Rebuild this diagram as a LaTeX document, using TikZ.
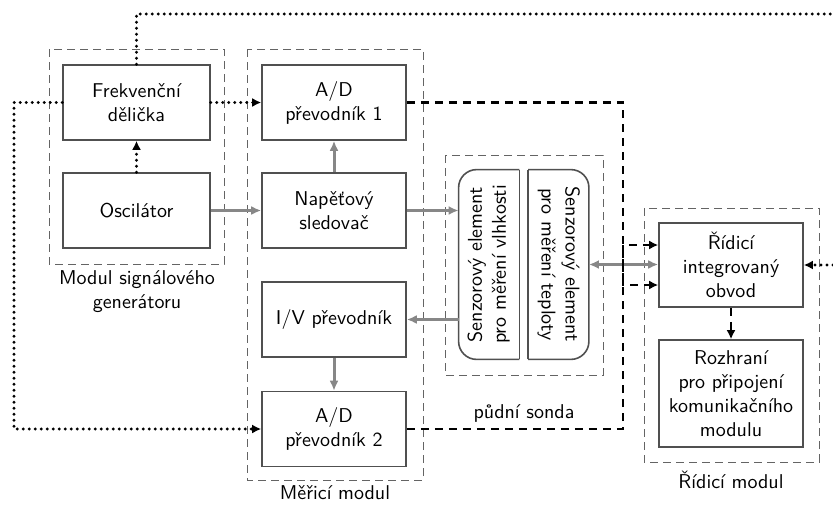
\documentclass[tikz,border=0pt]{standalone}
\usepackage{fontspec}
\usepackage{graphicx}
\usetikzlibrary{arrows.meta}

\definecolor{boxgray}{RGB}{80,80,80}
\definecolor{arrgray}{RGB}{135,135,135}
\definecolor{modgray}{RGB}{100,100,100}

\tikzset{
  blok/.style={draw=boxgray, line width=0.8pt, minimum width=72pt, minimum height=37.5pt, align=center, inner sep=1pt},
  senzor/.style={minimum width=30pt, minimum height=94.5pt, inner sep=0pt},
  obrys/.style={draw=boxgray, line width=0.8pt},
  modul/.style={draw=modgray, line width=0.5pt, dash pattern=on 4pt off 2.5pt},
  signal/.style={draw=arrgray, line width=1.5pt, -{Latex[length=5pt,width=4.5pt]}},
  rizeni/.style={line width=1.4pt, dash pattern=on 4pt off 3pt, -{Latex[length=4.5pt,width=4.5pt]}},
  hodiny/.style={line width=1.6pt, line cap=round, dash pattern=on 0pt off 3pt, -{Latex[length=4.5pt,width=4.5pt]}},
}

\begin{document}
\begin{tikzpicture}[x=0.5pt,y=0.5pt,yscale=-1,xscale=1, every node/.style={font=\sffamily}]
        \useasboundingbox (0,0) rectangle (833,504);

        %Shape: Rectangle [modul signaloveho generatoru]
        \draw [modul] (49,49) rectangle (224,264);
        %Shape: Rectangle [merici modul]
        \draw [modul] (247,49) rectangle (423,480);
        %Shape: Rectangle [pudni sonda]
        \draw [modul] (445,155) rectangle (603,375);
        %Shape: Rectangle [ridici modul]
        \draw [modul] (644,208) rectangle (819,462);

        % Blocks
        \node (del) [blok, minimum width=73.5pt] at (136.5,102.5) {Frekvenční\\dělička};
        \node (osc) [blok, minimum width=73.5pt] at (136.5,210.5) {Oscilátor};
        \node (ad1) [blok] at (334,102.5) {A/D\\převodník 1};
        \node (nap) [blok] at (334,210.5) {Napěťový\\sledovač};
        \node (iv) [blok] at (334,319.5) {I/V převodník};
        \node (ad2) [blok] at (334,429) {A/D\\převodník 2};
        \node (ridici) [blok, minimum height=42pt] at (731,265) {Řídicí\\integrovaný\\obvod};
        \node (rozh) [blok, minimum height=53.5pt] at (731,393.5) {Rozhraní\\pro připojení\\komunikačního\\modulu};

        % Sensor elements
        \node (vlh) [senzor] at (489,264.5) {\rotatebox{90}{\begin{tabular}{@{}c@{}}Senzorový element\\pro měření vlhkosti\end{tabular}}};
        \node (tep) [senzor] at (558.5,264.5) {\rotatebox{-90}{\begin{tabular}{@{}c@{}}Senzorový element\\pro měření teploty\end{tabular}}};
        \draw [obrys, rounded corners=9pt] (vlh.north east) -- (vlh.north west) -- (vlh.south west) -- (vlh.south east);
        \draw [obrys] (vlh.south east) -- (vlh.north east);
        \draw [obrys, rounded corners=9pt] (tep.north west) -- (tep.north east) -- (tep.south east) -- (tep.south west);
        \draw [obrys] (tep.south west) -- (tep.north west);

        % Text Node
        \node (lgen) [align=center] at (137,292) {Modul signálového\\generátoru};
        % Text Node
        \node (lmer) at (335,493) {Měřicí modul};
        % Text Node
        \node (lrid) at (731,480) {Řídicí modul};
        % Text Node
        \node (lsonda) at (524,413) {půdní sonda};

        % bend points
        \coordinate (lft) at (14,0);
        \coordinate (bus) at (623,0);
        \coordinate (top) at (833,14);
        \coordinate (rgt) at (833,265);
        \coordinate (ina) at ([yshift=10pt]ridici.west);
        \coordinate (inb) at ([yshift=-10pt]ridici.west);

        % clock lines
        \draw [hodiny] (osc) -- (del);
        \draw [hodiny] (del) -- (ad1);
        \draw [hodiny] (del.west) -| (lft |- ad2.west) -- (ad2.west);
        \draw [hodiny, -] (del.north) |- (top);
        \draw [hodiny] (rgt) -- (ridici.east);

        % analog signals
        \draw [signal] (osc) -- (nap);
        \draw [signal] (nap) -- (ad1);
        \draw [signal] (nap.east) -- (nap.east -| vlh.west);
        \draw [signal] (vlh.west |- iv.east) -- (iv.east);
        \draw [signal] (iv) -- (ad2);
        \draw [signal, {Latex[length=5pt,width=4.5pt]}-{Latex[length=5pt,width=4.5pt]}] (tep.east) -- (tep.east -| ridici.west);

        % data lines
        \draw [rizeni] (ad1.east) -| (bus |- ina) -- (ina);
        \draw [rizeni] (ad2.east) -| (bus |- inb) -- (inb);
        \draw [rizeni] (ridici) -- (rozh);

    \end{tikzpicture}
\end{document}
